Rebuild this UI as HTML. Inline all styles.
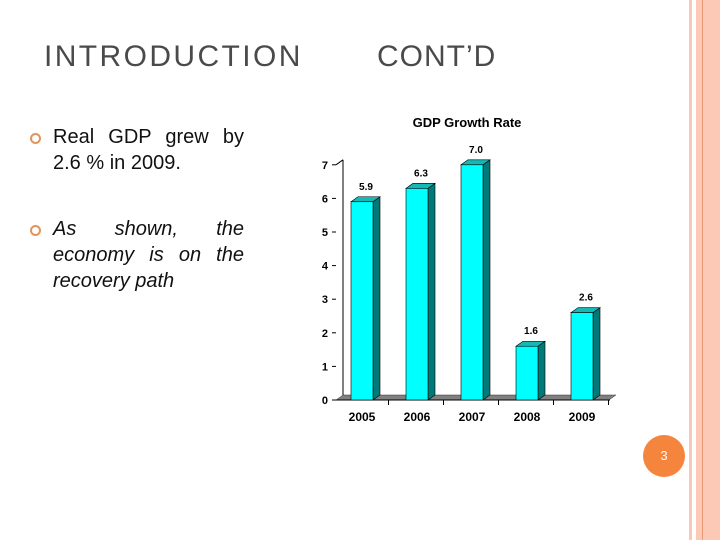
<!DOCTYPE html>
<html><head><meta charset="utf-8"><style>
body{margin:0;width:720px;height:540px;background:#fff;position:relative;overflow:hidden;font-family:"Liberation Sans",sans-serif}
.t{position:absolute;color:#4a4a4a;font-size:30px;top:40px}
.b{position:absolute;left:53px;width:191px;font-size:20px;line-height:26px;color:#111;text-align:justify;text-align-last:left}
.dot{position:absolute;left:30px;width:7px;height:7px;border:2px solid #e0945e;border-radius:50%}
</style></head><body>
<div style="position:absolute;left:689px;top:0;width:3px;height:540px;background:#f9c8b8"></div>
<div style="position:absolute;left:696px;top:0;width:24px;height:540px;background:#fbc9b5"></div>
<div style="position:absolute;left:702px;top:0;width:1px;height:540px;background:#e89a78"></div>
<div class="t" style="left:44px;letter-spacing:2.4px">INTRODUCTION</div>
<div class="t" style="left:377px;letter-spacing:1px">CONT’D</div>
<div class="dot" style="top:133px"></div>
<div class="b" style="top:124px">Real GDP grew by 2.6 % in 2009.</div>
<div class="dot" style="top:225px"></div>
<div class="b" style="top:216px;font-style:italic">As shown, the economy is on the recovery path</div>
<div style="position:absolute;left:643px;top:435px;width:42px;height:42px;border-radius:50%;background:#f5843c;color:#fff;font-size:13px;line-height:42px;text-align:center">3</div>
<svg id="chart" width="720" height="540" style="position:absolute;left:0;top:0"></svg>
<script>
const categories=["2005","2006","2007","2008","2009"];
const values=[5.9,6.3,7.0,1.6,2.6];
const valueLabels=["5.9","6.3","7.0","1.6","2.6"];
const yTicks=[0,1,2,3,4,5,6,7];
const svg=document.getElementById('chart');
const NS='http://www.w3.org/2000/svg';
const y0=400,unit=33.6,x0=336,step=55,first=362,bw=22,dx=7,dy=5;
const Y=v=>y0-v*unit, X=i=>first+i*step;
function mk(t,a,txt){const e=document.createElementNS(NS,t);for(const k in a)e.setAttribute(k,a[k]);if(txt!==undefined)e.textContent=txt;svg.appendChild(e);return e;}
let e;
e=mk('text',{x:467,y:127,'text-anchor':'middle','font-size':13,'font-weight':'bold',fill:'#000'},'GDP Growth Rate');


e=mk('polygon',{points:`${x0},${y0} ${x0+dx},${y0-dy} ${x0+280},${y0-dy} ${x0+273},${y0}`,fill:'#808080',stroke:'#333','stroke-width':0.5});


e=mk('line',{x1:x0+dx,y1:Y(7)-dy,x2:x0+dx,y2:y0-dy,stroke:'#000'});


e=mk('line',{x1:x0,y1:Y(7),x2:x0+dx,y2:Y(7)-dy,stroke:'#000'});


e=mk('line',{x1:x0,y1:y0,x2:x0+274,y2:y0,stroke:'#000'});


yTicks.forEach(v=>{
  e=mk('line',{x1:x0-4,y1:Y(v),x2:x0,y2:Y(v),stroke:'#000'});
  
  
  e=mk('text',{x:x0-8,y:Y(v)+4,'text-anchor':'end','font-size':11,'font-weight':'bold'},v);
  
  
});
categories.forEach((c,i)=>{
  const cx=X(i),l=cx-bw/2,r=cx+bw/2,top=Y(values[i]);
  e=mk('line',{x1:cx+step/2-1,y1:y0,x2:cx+step/2-1,y2:y0+5,stroke:'#000'});
  
  
  e=mk('polygon',{points:`${r},${top} ${r+dx},${top-dy} ${r+dx},${y0-dy} ${r},${y0}`,fill:'#007a78',stroke:'#000','stroke-width':0.6});
  
  
  e=mk('polygon',{points:`${l},${top} ${l+dx},${top-dy} ${r+dx},${top-dy} ${r},${top}`,fill:'#14b8b4',stroke:'#000','stroke-width':0.6});
  
  
  e=mk('rect',{x:l,y:top,width:bw,height:y0-top,fill:'#00ffff',stroke:'#000','stroke-width':0.6});
  
  
  e=mk('text',{x:cx+4,y:top-12,'text-anchor':'middle','font-size':10,'font-weight':'bold'},valueLabels[i]);
  
  
  e=mk('text',{x:cx,y:y0+21,'text-anchor':'middle','font-size':12,'font-weight':'bold'},c);
  
  
});
</script>
</body></html>
